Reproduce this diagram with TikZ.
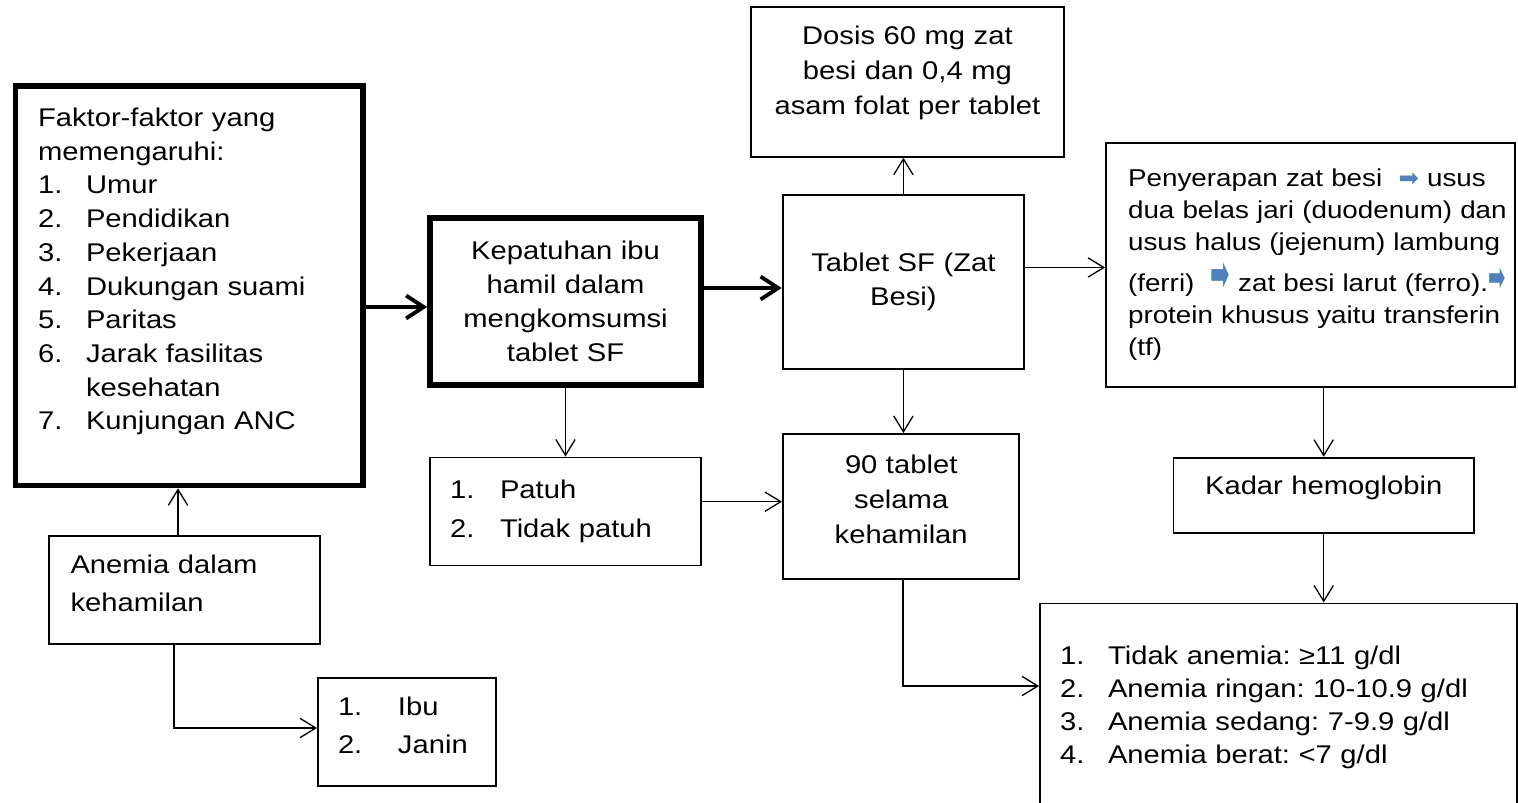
\documentclass[tikz,border=0pt]{standalone}
\usepackage{fontspec}
\setmainfont{Liberation Sans}[FakeStretch=1.14]
\newfontfamily\arrowfont{DejaVu Sans}
\usepackage{xcolor}
\usepackage{graphicx}
\usepackage{tikz}
\usetikzlibrary{arrows.meta}
\frenchspacing

\definecolor{arrowblue}{HTML}{4F81BD}
\newcommand{\itm}[3][0.96cm]{\makebox[#1][l]{#2}#3}
\newcommand{\bluearrow}[2]{\textcolor{arrowblue}{\scalebox{#1}[#2]{\arrowfont ➡}}}
\newcommand{\padbelow}[1]{\par\nointerlineskip\noindent\rule{0pt}{#1}}

\begin{document}
\begin{tikzpicture}[x=0.02cm,y=-0.02cm,
  font=\fontsize{14.57}{19.35}\selectfont,
  thinbox/.style={draw,line width=1.1pt,inner sep=0pt},
  thickbox/.style={draw,line width=3.2pt,inner sep=0pt},
  thinarrow/.style={line width=0.75pt,-{Straight Barb[length=9pt,width=11pt]}},
  thickarrow/.style={line width=2.2pt,-{Straight Barb[length=10pt,width=13pt]}}]

\useasboundingbox (0,0) rectangle (1518,803);

\node [thickbox,minimum width=6.95cm,minimum height=7.99cm,text width=6.05cm,inner xsep=0.45cm,align=left,font=\fontsize{14.57}{19.2}\selectfont] (v1) at (189.25,285.75) {Faktor-faktor yang\\memengaruhi:\\\itm{1.}{Umur}\\\itm{2.}{Pendidikan}\\\itm{3.}{Pekerjaan}\\\itm{4.}{Dukungan suami}\\\itm{5.}{Paritas}\\\itm{6.}{Jarak fasilitas}\\\hspace*{0.96cm}kesehatan\\\itm{7.}{Kunjungan ANC}\\\mbox{}};
\node [thickbox,minimum width=5.42cm,minimum height=3.34cm,text width=5.2cm,align=center] (v2) at (565.5,301.5) {Kepatuhan ibu\\hamil dalam\\mengkomsumsi\\tablet SF};
\node [thinbox,minimum width=4.83cm,minimum height=3.49cm,text width=4.6cm,align=center] (v3) at (903.4,282.2) {Tablet SF (Zat\\Besi)};
\node [thinbox,minimum width=6.27cm,minimum height=2.99cm,text width=6cm,align=center,font=\fontsize{14.57}{19.9}\selectfont] (v4) at (907.4,82) {Dosis 60 mg zat\\besi dan 0,4 mg\\asam folat per tablet\padbelow{0.36cm}};
\node [thinbox,minimum width=8.18cm,minimum height=4.89cm,text width=7.7cm,inner xsep=0.24cm,align=left,font=\fontsize{13.88}{18.2}\selectfont] (v5) at (1310.5,264.9) {\leftskip=0.2cm
\mbox{Penyerapan zat besi\ \ \bluearrow{1}{1} usus}\\
\mbox{dua belas jari (duodenum) dan}\\
\mbox{usus halus (jejenum) lambung}\\[0.1cm]
\mbox{(ferri)\ \ \bluearrow{0.95}{2.1} zat besi larut (ferro).\bluearrow{0.85}{1.7}}\\
\mbox{protein khusus yaitu transferin}\\
\mbox{(tf)}\par};
\node [thinbox,minimum width=5.42cm,minimum height=2.16cm,text width=4.62cm,inner xsep=0.4cm,align=left,font=\fontsize{14.57}{21.9}\selectfont] (v6) at (565.5,511.5) {\itm[1cm]{1.}{Patuh}\\\itm[1cm]{2.}{Tidak patuh}};
\node [thinbox,minimum width=4.73cm,minimum height=2.9cm,text width=4.5cm,align=center,font=\fontsize{14.57}{19.9}\selectfont] (v7) at (901.2,506.5) {90 tablet\\selama\\kehamilan\padbelow{0.3cm}};
\node [thinbox,minimum width=6.01cm,minimum height=1.5cm,text width=5.6cm,align=center] (v8) at (1323.7,495.2) {Kadar hemoglobin\padbelow{0.3cm}};
\node [thinbox,minimum width=5.42cm,minimum height=2.17cm,text width=4.56cm,inner xsep=0.43cm,align=left,font=\fontsize{14.57}{21.5}\selectfont] (v9) at (184.5,590.2) {Anemia dalam\\kehamilan\padbelow{0.26cm}};
\node [thinbox,minimum width=3.56cm,minimum height=2.15cm,text width=2.76cm,inner xsep=0.4cm,align=left,font=\fontsize{14.57}{21.6}\selectfont] (v10) at (407,732.2) {\itm[1.2cm]{1.}{Ibu}\\\itm[1.2cm]{2.}{Janin}\padbelow{0.26cm}};
\node [thinbox,minimum width=9.54cm,minimum height=4.17cm,text width=8.74cm,inner xsep=0.4cm,align=left,font=\fontsize{14.57}{18.8}\selectfont] (v11) at (1278.5,707.7) {\itm{1.}{Tidak anemia: ≥11 g/dl}\\\itm{2.}{Anemia ringan: 10-10.9 g/dl}\\\itm{3.}{Anemia sedang: 7-9.9 g/dl}\\\itm{4.}{Anemia berat: <7 g/dl}};

\draw [thickarrow] (v1.east |- 0,307) -- (v2.west |- 0,307);
\draw [thickarrow] (v2.east |- 0,288) -- (v3.west |- 0,288);
\draw [thinarrow] (v3.north) -- (v3.north |- v4.south);
\draw [thinarrow] (v3.east |- 0,267.5) -- (v5.west |- 0,267.5);
\draw [thinarrow] (v3.south) -- (v3.south |- v7.north);
\draw [thinarrow] (v2.south) -- (v2.south |- v6.north);
\draw [thinarrow] (v6.east |- 0,501.7) -- (v7.west |- 0,501.7);
\draw [thinarrow] (178,0 |- v9.north) -- (178,0 |- v1.south);
\draw [thinarrow] (174,0 |- v9.south) |- (v10.west |- 0,728);
\draw [thinarrow] (903,0 |- v7.south) |- (v11.west |- 0,686);
\draw [thinarrow] (v8.north |- v5.south) -- (v8.north);
\draw [thinarrow] (v8.south) -- (v8.south |- v11.north);

\end{tikzpicture}
\end{document}
